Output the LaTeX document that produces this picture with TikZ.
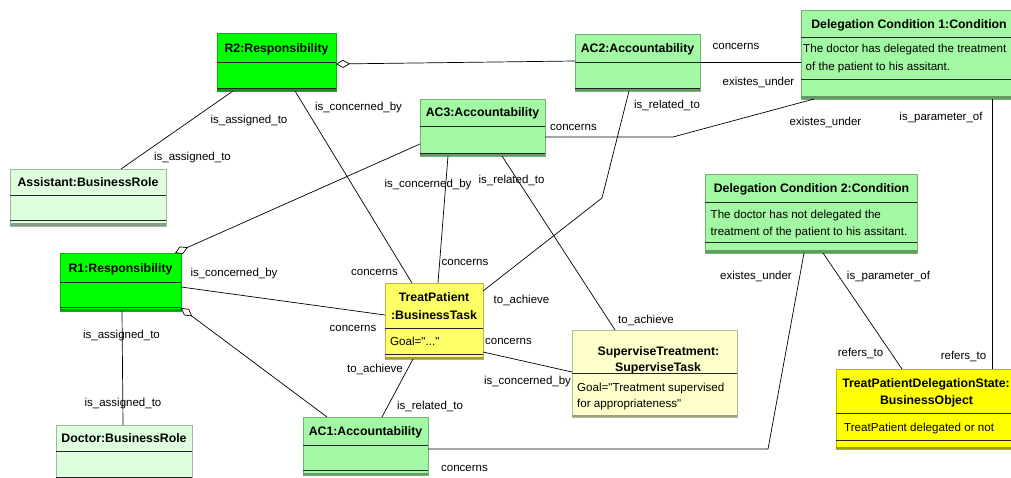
\documentclass[tikz,border=0pt]{standalone}
\usepackage{fontspec}
\setmainfont{Liberation Sans}[Ligatures=TeXOff]
\usetikzlibrary{arrows.meta}
\definecolor{gBright}{HTML}{00FF00}
\definecolor{gPale}{HTML}{A3F8A3}
\definecolor{gLight}{HTML}{DDFFDD}
\definecolor{yMid}{HTML}{FFFF66}
\definecolor{yLight}{HTML}{FFFFCC}
\definecolor{yBright}{HTML}{FFFF00}
\tikzset{
  ubox/.style={rectangle, inner sep=0pt, outer sep=0pt, line width=0.5pt},
  sepl/.style={line width=0.8pt, black!85},
  conn/.style={line width=0.7pt, black},
  agg/.style={conn, {Diamond[open,length=14pt,width=8pt,line width=0.7pt]}-},
  lbl/.style={font=\fontsize{11.5}{13}\selectfont, inner sep=0pt, text height=8.2pt, text depth=0pt},
  ttl/.style={font=\fontsize{12.3}{14}\selectfont\bfseries, inner sep=0pt, text height=8.8pt, text depth=0pt},
  attr/.style={font=\fontsize{11.6}{13}\selectfont, inner sep=0pt, text height=8.3pt, text depth=0pt, anchor=west}
}
\newcommand{\umlbox}[6]{%
  \node[ubox, fill=#6, draw=#6!72!black, minimum width={(#4-#2)*1pt}, minimum height={(#5-#3)*1pt}, anchor=north west] (#1) at (#2,#3) {};
  \fill[#6!62!black] (#2,{#5-2.5}) rectangle (#4,#5);
}
\newcommand{\usep}[3]{\draw[sepl] (#1,#3) -- (#2,#3);}
\begin{document}
\begin{tikzpicture}[x=1pt,y=-1pt]
\useasboundingbox (0,0) rectangle (1011,478);
\clip (0,0) rectangle (1011,478);
\fill[white] (0,0) rectangle (1011,478);

% ---------- boxes ----------
\umlbox{r2}{217}{33}{336}{91}{gBright}
\usep{217}{336}{62}\usep{217}{336}{88}
\umlbox{ac2}{575}{34}{700}{91}{gPale}
\usep{575}{700}{62}\usep{575}{700}{88}
\umlbox{ac3}{420}{99}{545}{156}{gPale}
\usep{420}{545}{126}\usep{420}{545}{153}
\umlbox{dc1}{801}{10}{1014}{99}{gPale}
\usep{801}{1014}{37}\usep{801}{1014}{79}
\umlbox{dc2}{705}{174}{917}{253}{gPale}
\usep{705}{917}{202}\usep{705}{917}{242}
\umlbox{assist}{10}{169}{166}{226}{gLight}
\usep{10}{166}{195}\usep{10}{166}{220}
\umlbox{r1}{60}{253}{181}{311}{gBright}
\usep{60}{181}{282}\usep{60}{181}{307}
\umlbox{doctor}{56}{425}{192}{481}{gLight}
\usep{56}{192}{451}\usep{56}{192}{477}
\umlbox{ac1}{303}{417}{428}{475}{gPale}
\usep{303}{428}{445}\usep{303}{428}{470}
\umlbox{tp}{385}{283}{483}{359}{yMid}
\usep{385}{483}{328}\usep{385}{483}{354}
\umlbox{sup}{572}{330}{737}{417}{yLight}
\usep{572}{737}{373}
\umlbox{tpds}{836}{369}{1016}{449}{yBright}
\usep{836}{1016}{413}\usep{836}{1016}{440}

% ---------- titles ----------
\node[ttl] (tr2) at (276.5,48) {R2:Responsibility};
\node[ttl] (tac2) at (637.5,48) {AC2:Accountability};
\node[ttl] (tac3) at (482.5,112.5) {AC3:Accountability};
\node[ttl] (tdc1) at (909,24.5) {Delegation Condition 1:Condition};
\node[ttl] (tdc2) at (811.5,188.5) {Delegation Condition 2:Condition};
\node[ttl] (tas) at (88,182) {Assistant:BusinessRole};
\node[ttl] (tr1) at (120.5,268) {R1:Responsibility};
\node[ttl] (tdo) at (124,438) {Doctor:BusinessRole};
\node[ttl] (tac1) at (365.5,431.5) {AC1:Accountability};
\node[ttl] (ttp1) at (434,297.5) {TreatPatient};
\node[ttl] (ttp2) at (434,315) {:BusinessTask};
\node[ttl] (tsu1) at (658.5,351.5) {SuperviseTreatment:};
\node[ttl] (tsu2) at (658,367.5) {SuperviseTask};
\node[ttl] (tts1) at (926,383.5) {TreatPatientDelegationState:};
\node[ttl] (tts2) at (926.5,400.5) {BusinessObject};

% ---------- attributes ----------
\node[attr] (adc1a) at (803,48.5) {The doctor has delegated the treatment};
\node[attr] (adc1b) at (805.5,66.5) {of the patient to his assitant.};
\node[attr] (adc2a) at (710.5,214) {The doctor has not delegated the};
\node[attr] (adc2b) at (710.5,231) {treatment of the patient to his assitant.};
\node[attr] (atp) at (390,341.5) {Goal="..."};
\node[attr] (asu1) at (577,387.5) {Goal="Treatment supervised};
\node[attr] (asu2) at (577,403.5) {for appropriateness"};
\node[attr] (ats) at (844,427.5) {TreatPatient delegated or not};

% ---------- connectors ----------
\coordinate (k5) at (673,137);
\coordinate (k9) at (602,198);
\coordinate (k11) at (768,449);
\draw[agg] ([yshift=-31pt]r2.north east) -- ([yshift=-27pt]ac2.north west);
\draw[conn] ([yshift=-28pt]ac2.north east) -- ([yshift=-52pt]dc1.north west);
\draw[conn] ([xshift=16pt]r2.south west) -- ([xshift=111pt]assist.north west);
\draw[conn] ([xshift=78pt]r2.south west) -- ([xshift=27pt]tp.north west);
\draw[conn] (k5 -| ac3.east) -- (k5) -- ([xshift=13pt]dc1.south west);
\draw[agg] ([xshift=-6pt]r1.north east) -- ([yshift=-45pt]ac3.north west);
\draw[conn] ([xshift=28pt]ac3.south west) -- ([xshift=53pt]tp.north west);
\draw[conn] ([xshift=82pt]ac3.south west) -- ([xshift=43pt]sup.north west);
\draw[conn] ([xshift=54pt]ac2.south west) -- (k9) -- ([yshift=-8pt]tp.north east);
\draw[conn] ([xshift=191pt]dc1.south west) -- ([xshift=156pt]tpds.north west);
\draw[conn] ([xshift=99pt]dc2.south west) -- (k11) -- (k11 -| ac1.east);
\draw[conn] ([xshift=118pt]dc2.south west) -- ([xshift=66pt]tpds.north west);
\draw[conn] ([yshift=-34pt]r1.north east) -- ([yshift=-32pt]tp.north west);
\draw[conn] ([xshift=62pt]r1.south west) -- ([xshift=67pt]doctor.north west);
\draw[agg] ([yshift=3pt]r1.south east) -- ([xshift=24pt]ac1.north west);
\draw[conn] ([xshift=28pt]tp.south west) -- ([xshift=79pt]ac1.north west);
\draw[conn] ([yshift=7pt]tp.south east) -- ([yshift=-42pt]sup.north west);

% ---------- labels ----------
\node[lbl] (l1) at (249,119.5) {is\_assigned\_to};
\node[lbl] (l2) at (192.5,156.5) {is\_assigned\_to};
\node[lbl] (l3) at (358.5,106) {is\_concerned\_by};
\node[lbl] (l4) at (374.5,271.5) {concerns};
\node[lbl] (l5) at (736,45) {concerns};
\node[lbl] (l6) at (758.5,81.5) {existes\_under};
\node[lbl] (l7) at (573.5,126) {concerns};
\node[lbl] (l8) at (825.5,121.5) {existes\_under};
\node[lbl] (l9) at (667,104) {is\_related\_to};
\node[lbl] (l10) at (521.5,299) {to\_achieve};
\node[lbl] (l11) at (428,183) {is\_concerned\_by};
\node[lbl] (l12) at (465,261.5) {concerns};
\node[lbl] (l13) at (511.5,179) {is\_related\_to};
\node[lbl] (l14) at (646,319) {to\_achieve};
\node[lbl] (l15) at (941,116) {is\_parameter\_of};
\node[lbl] (l16) at (963.5,355) {refers\_to};
\node[lbl] (l17) at (756,275) {existes\_under};
\node[lbl] (l18) at (464.5,467.5) {concerns};
\node[lbl] (l19) at (888.5,275) {is\_parameter\_of};
\node[lbl] (l20) at (860.5,352.5) {refers\_to};
\node[lbl] (l21) at (234,272.5) {is\_concerned\_by};
\node[lbl] (l22) at (353,327.5) {concerns};
\node[lbl] (l23) at (121.5,334.5) {is\_assigned\_to};
\node[lbl] (l24) at (123,402.5) {is\_assigned\_to};
\node[lbl] (l25) at (375,368.5) {to\_achieve};
\node[lbl] (l26) at (430,405) {is\_related\_to};
\node[lbl] (l27) at (508.5,340.5) {concerns};
\node[lbl] (l28) at (527.5,380) {is\_concerned\_by};
\end{tikzpicture}
\end{document}
